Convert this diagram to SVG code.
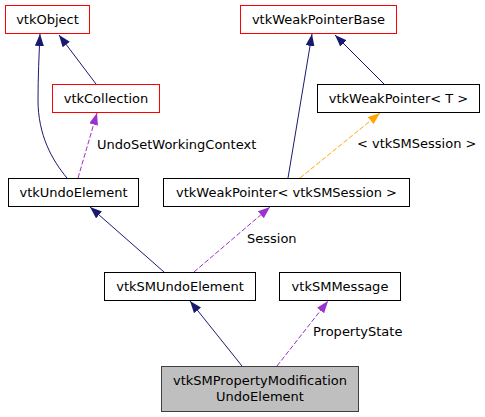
<svg xmlns="http://www.w3.org/2000/svg" width="485" height="417" viewBox="0 0 485 417">
<style>
  .box { fill: #ffffff; stroke: #000000; stroke-width: 1; }
  .red { fill: #ffffff; stroke: #ff0000; stroke-width: 1; }
  .main { fill: #bfbfbf; stroke: #404040; stroke-width: 1; }
  text { font-family: "DejaVu Sans", "Liberation Sans", sans-serif; font-size: 13px; fill: #000000; }
  .c { text-anchor: middle; }
  .inh { fill: none; stroke: #191970; stroke-width: 1; }
  .use { fill: none; stroke: #9a32cd; stroke-width: 1; stroke-dasharray: 5,2; }
  .tpl { fill: none; stroke: #ffa500; stroke-width: 1; stroke-dasharray: 5,2; }
</style>
<defs>
  <marker id="aInh" viewBox="0 0 12 9" refX="12" refY="4.5" markerWidth="12" markerHeight="9" markerUnits="userSpaceOnUse" orient="auto">
    <polygon points="0,0 12,4.5 0,9" fill="#191970"/>
  </marker>
  <marker id="aUse" viewBox="0 0 12 9" refX="12" refY="4.5" markerWidth="12" markerHeight="9" markerUnits="userSpaceOnUse" orient="auto">
    <polygon points="0,0 12,4.5 0,9" fill="#9a32cd"/>
  </marker>
  <marker id="aTpl" viewBox="0 0 12 9" refX="12" refY="4.5" markerWidth="12" markerHeight="9" markerUnits="userSpaceOnUse" orient="auto">
    <polygon points="0,0 12,4.5 0,9" fill="#ffa500"/>
  </marker>
</defs>
<rect width="485" height="417" fill="#ffffff"/>
<g id="connectors">
  <path class="inh" d="M67,178 C52,160 38,135 38,100 C38,78 39,55 40,34" marker-end="url(#aInh)"/>
  <path class="inh" d="M96,84 L59,35" marker-end="url(#aInh)"/>
  <path class="use" d="M78,178 L97,113" marker-end="url(#aUse)"/>
  <text x="97" y="149">UndoSetWorkingContext</text>
  <path class="inh" d="M288,178 L312,34" marker-end="url(#aInh)"/>
  <path class="inh" d="M384,84 L335,35" marker-end="url(#aInh)"/>
  <path class="tpl" d="M300,178 L380,113" marker-end="url(#aTpl)"/>
  <text x="357" y="148">&lt; vtkSMSession &gt;</text>
  <path class="inh" d="M164,272 L90,207" marker-end="url(#aInh)"/>
  <path class="use" d="M194,272 L270,207" marker-end="url(#aUse)"/>
  <text x="247" y="243">Session</text>
  <path class="inh" d="M242,366 L190,301" marker-end="url(#aInh)"/>
  <path class="use" d="M277,366 L328,301" marker-end="url(#aUse)"/>
  <text x="313" y="336">PropertyState</text>
</g>
<g id="vtkObject">
  <rect class="red" x="5.5" y="5.5" width="84" height="28"/>
  <text class="c" x="47.5" y="24">vtkObject</text>
</g>
<g id="vtkCollection">
  <rect class="red" x="52.5" y="84.5" width="107" height="28"/>
  <text class="c" x="106" y="103">vtkCollection</text>
</g>
<g id="vtkWeakPointerBase">
  <rect class="red" x="240.5" y="5.5" width="156" height="28"/>
  <text class="c" x="318.5" y="24">vtkWeakPointerBase</text>
</g>
<g id="vtkWeakPointerT">
  <rect class="box" x="317.5" y="84.5" width="162" height="28"/>
  <text class="c" x="398.5" y="103">vtkWeakPointer&lt; T &gt;</text>
</g>
<g id="vtkUndoElement">
  <rect class="box" x="8.5" y="178.5" width="130" height="28"/>
  <text class="c" x="73.5" y="197">vtkUndoElement</text>
</g>
<g id="vtkWeakPointerSession">
  <rect class="box" x="163.5" y="178.5" width="246" height="28"/>
  <text class="c" x="286.5" y="197">vtkWeakPointer&lt; vtkSMSession &gt;</text>
</g>
<g id="vtkSMUndoElement">
  <rect class="box" x="104.5" y="272.5" width="151" height="28"/>
  <text class="c" x="180" y="291">vtkSMUndoElement</text>
</g>
<g id="vtkSMMessage">
  <rect class="box" x="279.5" y="272.5" width="121" height="28"/>
  <text class="c" x="340" y="291">vtkSMMessage</text>
</g>
<g id="vtkSMPropertyModificationUndoElement">
  <rect class="main" x="161.5" y="366.5" width="197" height="45"/>
  <text class="c" x="260" y="385">vtkSMPropertyModification</text>
  <text class="c" x="260" y="401">UndoElement</text>
</g>
</svg>
